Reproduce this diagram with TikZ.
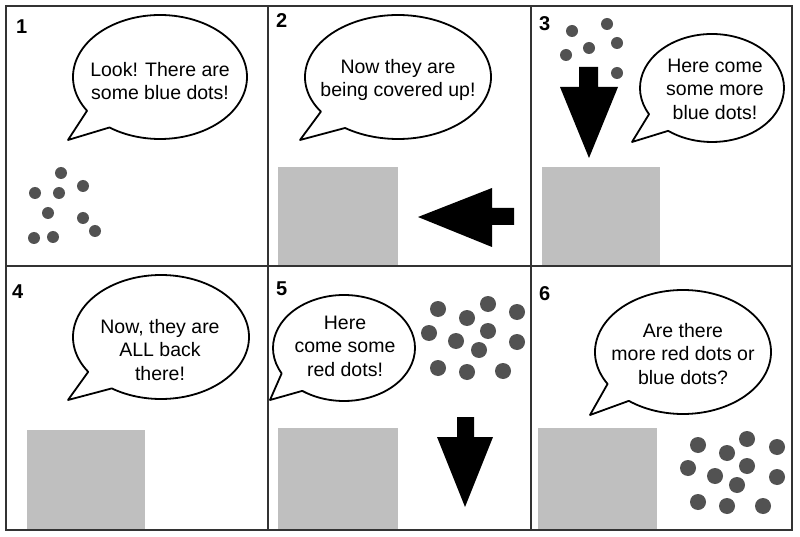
\documentclass[tikz,border=0pt]{standalone}
\usepackage{fontspec}
\setmainfont{Liberation Sans}
\usepackage{tikz}
\usetikzlibrary{positioning}

\begin{document}
\begin{tikzpicture}[
    x=1pt, y=-1pt,
    frame/.style={draw=black!80, line width=1.2pt},
    bubble/.style={draw=black, fill=white, line width=1.8pt, line join=round},
    say/.style={align=center, inner sep=0pt, font=\fontsize{19.5}{23.5}\selectfont},
    num/.style={anchor=north west, inner sep=0pt, font=\fontsize{20}{20}\selectfont\bfseries},
    cover/.style={fill=black!25},
    dot/.style={fill=black!68},
    bigarrow/.style={fill=black},
]
\useasboundingbox (0,0) rectangle (800,537);

% Covers
\fill[cover] (278,167) rectangle (398,266);
\fill[cover] (542,167) rectangle (660,266);
\fill[cover] (27,430) rectangle (145,530);
\fill[cover] (278,428) rectangle (398,530);
\fill[cover] (538,428) rectangle (657,530);

% Frame
\draw[frame] (6,6) rectangle (792,530);
\draw[frame] (268,6) -- (268,530);
\draw[frame] (531,6) -- (531,530);
\draw[frame] (6,266) -- (792,266);

% Panel numbers
\node[num] (n1) at (16,20) {1};
\node[num] (n2) at (276,13) {2};
\node[num] (n3) at (539,16) {3};
\node[num] (n4) at (12,285) {4};
\node[num] (n5) at (276,282) {5};
\node[num] (n6) at (539,286) {6};

% Bubbles
\draw[bubble] (160,77) ++(147:87 and 62) arc[start angle=147, end angle=485.5, x radius=87, y radius=62] -- (68,140) -- cycle;
\draw[bubble] (398,77) ++(146:93 and 62) arc[start angle=146, end angle=484.7, x radius=93, y radius=62] -- (300,140) -- cycle;
\draw[bubble] (712,88) ++(151:72 and 54) arc[start angle=151, end angle=487.5, x radius=72, y radius=54] -- (632,142) -- cycle;
\draw[bubble] (161,337) ++(145.8:88 and 62) arc[start angle=145.8, end angle=484, x radius=88, y radius=62] -- (68,400) -- cycle;
\draw[bubble] (344,348) ++(151.4:71 and 53) arc[start angle=151.4, end angle=486, x radius=71, y radius=53] -- (270,400) -- cycle;
\draw[bubble] (683,352) ++(149:88 and 62) arc[start angle=149, end angle=488, x radius=88, y radius=62] -- (590,415) -- cycle;

\node[say] (say1) at (160,81) {Look! There are\\some blue dots!};
\node[say] (say2) at (398,80) {Now they are\\being covered up!};
\node[say] (say3) at (715,89) {Here come\\some more\\blue dots!};
\node[say] (say4) at (160,350) {Now, they are\\ALL back\\there!};
\node[say] (say5) at (345,346) {Here\\come some\\red dots!};
\node[say] (say6) at (683,354) {Are there\\more red dots or\\blue dots?};

% Dots
\foreach \x/\y in {61/173, 83/186, 35/193, 59/193, 48/213, 83/218, 95/231, 34/238, 53/237}
    \fill[dot] (\x,\y) circle[radius=6];
\foreach \x/\y in {572/31, 607/24, 617/43, 589/48, 566/55, 617/73}
    \fill[dot] (\x,\y) circle[radius=6];
\foreach \x/\y in {438/309, 488/304, 517/312, 467/318, 429/333, 488/331, 456/341, 517/342, 479/350, 438/368, 467/372, 503/371}
    \fill[dot] (\x,\y) circle[radius=8];
\foreach \x/\y in {698/445, 747/439, 777/447, 727/453, 688/468, 747/466, 715/476, 777/477, 737/485, 698/502, 727/506, 763/506}
    \fill[dot] (\x,\y) circle[radius=8];

% Arrows
\fill[bigarrow] (418,217) -- (492,188) -- (492,208) -- (514,208) -- (514,225) -- (492,225) -- (492,247) -- cycle;
\fill[bigarrow] (579,67) -- (598,67) -- (598,87) -- (618,87) -- (589,158) -- (560,87) -- (579,87) -- cycle;
\fill[bigarrow] (457,417) -- (474,417) -- (474,437) -- (493,437) -- (465,507) -- (437,437) -- (457,437) -- cycle;

\end{tikzpicture}
\end{document}
